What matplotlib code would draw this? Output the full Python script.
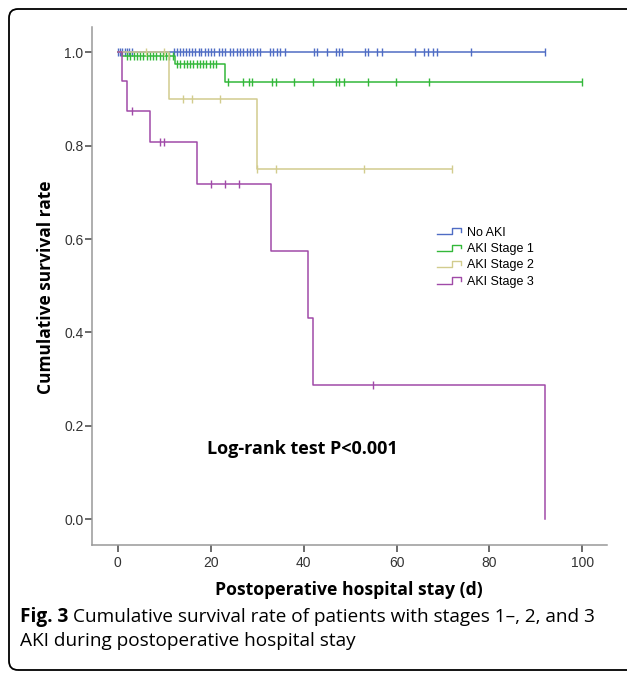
import numpy as np
import matplotlib
matplotlib.use("Agg")
import matplotlib.pyplot as plt
from matplotlib.legend_handler import HandlerBase
from matplotlib.lines import Line2D
from matplotlib.patches import FancyBboxPatch
from matplotlib.transforms import IdentityTransform

# step curves: event times and survival after each step
no_aki_t = [0, 92]
no_aki_s = [1.0, 1.0]
no_aki_cens = [0, 0.5, 1, 1.5, 2, 2.5, 3, 12, 12.7, 13.4, 14, 14.7, 15.4, 16, 16.7,
               17.4, 18, 18.7, 19.4, 20, 20.8, 21.7, 22.4, 23.1, 24.2, 24.9, 25.6,
               26.3, 27, 27.8, 28.5, 29.2, 29.9, 30.6, 32.8, 33.5, 34.2, 34.9, 36,
               42.2, 42.8, 45, 47, 47.7, 48.2, 53.2, 53.9, 55.9, 56.8, 64, 65.9,
               66.8, 67.8, 68.7, 76, 92]

stage1_t = [0, 1, 12.3, 23, 100]
stage1_s = [1.0, 0.992, 0.975, 0.936, 0.936]
stage1_cens = [2, 2.7, 3.4, 4.1, 4.8, 5.5, 6.2, 6.9, 7.6, 8.3, 9, 9.7, 10.4, 11.1,
               11.8, 12.8, 13.5, 14.2, 14.9, 15.6, 16.3, 17, 17.7, 18.4, 19.1, 19.8,
               20.5, 21.2, 23.8, 27, 28.3, 29, 33.1, 34, 38, 42.1, 47, 47.7, 48.8,
               53.9, 59.9, 67, 100]

stage2_t = [0, 11, 30, 72]
stage2_s = [1.0, 0.9, 0.75, 0.75]
stage2_cens = [6, 10, 14, 16, 22, 30, 34, 53, 72]

stage3_t = [0, 1, 2, 7, 17, 33, 41, 42, 92]
stage3_s = [1.0, 0.9375, 0.875, 0.808, 0.718, 0.575, 0.431, 0.287, 0.0]
stage3_cens = [3, 9, 10, 20, 23, 26, 55]

labels = ["No AKI", "AKI Stage 1", "AKI Stage 2", "AKI Stage 3"]
colors = ["#4f6cc4", "#33b83a", "#d2cc8e", "#a04aa8"]


def surv_at(times, surv, t):
    i = np.searchsorted(times, t, side="right") - 1
    return np.asarray(surv)[i]


class StepHandler(HandlerBase):
    def create_artists(self, legend, orig_handle, xdescent, ydescent, width, height,
                       fontsize, trans):
        xs = np.array([0, 0.62, 0.62, 0.95, 0.95]) * width - xdescent
        ys = np.array([0.15, 0.15, 0.85, 0.85, 0.45]) * height - ydescent
        ln = Line2D(xs, ys, color=orig_handle.get_color(), lw=1.0, transform=trans)
        return [ln]


fig = plt.figure(figsize=(6.27, 6.74), dpi=100)
ax = fig.add_axes([0.1463, 0.1914, 0.8214, 0.7685])

curves = [(no_aki_t, no_aki_s, no_aki_cens), (stage1_t, stage1_s, stage1_cens),
          (stage2_t, stage2_s, stage2_cens), (stage3_t, stage3_s, stage3_cens)]
handles = []
for (t, s, c), col, lab in zip(curves, colors, labels):
    h, = ax.step(t, s, where="post", color=col, lw=1.1, label=lab)
    ax.plot(c, surv_at(t, s, c), ls="none", marker="|", ms=6, mew=1.0, color=col)
    handles.append(h)

ax.set_xlim(-5.6, 105.25)
ax.set_ylim(-0.055, 1.054)
ax.set_xticks(np.arange(0, 101, 20))
ax.set_yticks(np.arange(0, 1.01, 0.2))
ax.set_yticklabels([f"{v:.1f}" for v in np.arange(0, 1.01, 0.2)])
for sp in ["top", "right"]:
    ax.spines[sp].set_visible(False)
for sp in ["left", "bottom"]:
    ax.spines[sp].set_color("#999999")
    ax.spines[sp].set_linewidth(1.1)
ax.tick_params(direction="out", length=5, width=1.1, color="#444444",
               labelcolor="#333333", labelsize=10)
ax.tick_params(axis="y", pad=1)
ax.tick_params(axis="x", pad=3)
for lbl in ax.get_xticklabels() + ax.get_yticklabels():
    lbl.set_fontfamily("Liberation Sans")

leg = ax.legend(handles=handles, labels=labels, loc="center left",
                bbox_to_anchor=(68.7, 0.561), bbox_transform=ax.transData,
                frameon=False, handler_map={Line2D: StepHandler()},
                handlelength=2.0, handletextpad=0.4, labelspacing=0.35,
                borderpad=0, borderaxespad=0,
                prop={"family": "Liberation Sans", "size": 9})

ax.text(19.2, 0.1505, "Log-rank test P<0.001", fontsize=13, fontweight="bold",
        family="Open Sans", va="center", ha="left")

fig.text(46 / 627, 1 - 287 / 674, "Cumulative survival rate", rotation=90,
         fontsize=12.5, fontweight="bold", family="Open Sans",
         ha="center", va="center")
fig.text(349 / 627, 1 - 590 / 674, "Postoperative hospital stay (d)",
         fontsize=12.7, fontweight="bold", family="Open Sans",
         ha="center", va="center")

# caption
fig_lbl = fig.text(20 / 627, 1 - 617 / 674, "Fig. 3", fontsize=13.7,
                   fontweight="bold", family="Open Sans", va="center")
fig.canvas.draw()
bb = fig_lbl.get_window_extent()
fig.text((bb.x1 + 5) / 627, 1 - 617 / 674,
         "Cumulative survival rate of patients with stages 1\u2013, 2, and 3",
         fontsize=13.7, family="Open Sans", va="center")
fig.text(20 / 627, 1 - 641 / 674, "AKI during postoperative hospital stay",
         fontsize=13.7, family="Open Sans", va="center")

border = FancyBboxPatch((9, 4), 660, 661, boxstyle="round,pad=0,rounding_size=9",
                        transform=IdentityTransform(), fill=False, lw=1.3,
                        ec="black")
fig.add_artist(border)

fig.savefig("out.png", dpi=100)
